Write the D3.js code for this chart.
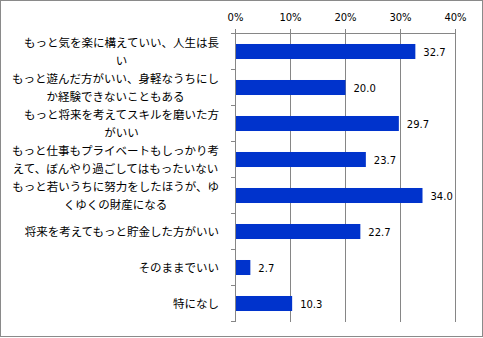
<!DOCTYPE html>
<html><head><meta charset="utf-8">
<script src="https://cdn.jsdelivr.net/npm/d3@7"></script>
<style>body{margin:0;background:#fff}svg{display:block}</style>
</head><body>
<svg id="c" width="483" height="338"></svg>
<script>
const categories = [
  "もっと気を楽に構えていい、人生は長\nい",
  "もっと遊んだ方がいい、身軽なうちにし\nか経験できないこともある",
  "もっと将来を考えてスキルを磨いた方\nがいい",
  "もっと仕事もプライベートもしっかり考\nえて、ぼんやり過ごしてはもったいない",
  "もっと若いうちに努力をしたほうが、ゆ\nくゆくの財産になる",
  "将来を考えてもっと貯金した方がいい",
  "そのままでいい",
  "特になし"
];
const values = [32.7, 20.0, 29.7, 23.7, 34.0, 22.7, 2.7, 10.3];
const ticks = [0, 10, 20, 30, 40];
const tickLabels = ["0%", "10%", "20%", "30%", "40%"];

const svg = d3.select("#c");
svg.append("rect").attr("x",0.5).attr("y",0.5).attr("width",482).attr("height",336)
  .attr("fill","#fff").attr("stroke","#8a8a8a");

const x = d3.scaleLinear().domain([0,40]).range([235.5,455.5]);
const pad = 0.583;
const y = d3.scaleBand().domain(categories).range([33.5,321.5]).paddingInner(pad).paddingOuter(pad/2);
const step = y.step();

// gridlines (with small tick above)
svg.append("g").selectAll("line").data(ticks.slice(1)).join("line")
  .attr("x1",d=>x(d)).attr("x2",d=>x(d)).attr("y1",29).attr("y2",322)
  .attr("stroke","#868686");
// top axis line
svg.append("line").attr("x1",x(0)).attr("x2",x(40)).attr("y1",33.5).attr("y2",33.5).attr("stroke","#868686");
// left axis
svg.append("line").attr("x1",x(0)).attr("x2",x(0)).attr("y1",29).attr("y2",322).attr("stroke","#868686");
// category ticks
const bounds = d3.range(categories.length+1).map(i => y.range()[0] + i*step);
svg.append("g").selectAll("line").data(bounds).join("line")
  .attr("x1",231).attr("x2",x(0)).attr("y1",d=>d).attr("y2",d=>d).attr("stroke","#868686");

// tick labels
svg.append("g").selectAll("text").data(ticks).join("text")
  .attr("x",d=>x(d)).attr("y",20.5).attr("text-anchor","middle")
  .attr("font-family","DejaVu Sans").attr("font-size",10).attr("fill","#000")
  .text((d,i)=>tickLabels[i]);

// bars
svg.append("g").selectAll("rect").data(values).join("rect")
  .attr("x",x(0)+0.5).attr("y",(d,i)=>y(categories[i]))
  .attr("width",d=>x(d)-x(0)-0.5).attr("height",y.bandwidth())
  .attr("fill","#0033CC");

// value labels
svg.append("g").selectAll("text").data(values).join("text")
  .attr("x",d=>x(d)+8).attr("y",(d,i)=>y(categories[i])+y.bandwidth()/2+4)
  .attr("font-family","DejaVu Sans").attr("font-size",10).attr("fill","#000")
  .text(d=>d.toFixed(1));

// category labels
const lh = 17.6;
categories.forEach(c => {
  const lines = c.split("\n");
  const cy = y(c) + y.bandwidth()/2;
  const g = svg.append("g");
  const ts = lines.map((ln,k) => g.append("text")
    .attr("y", cy + (k - (lines.length-1)/2)*lh + 4.3)
    .attr("font-family","'Noto Sans CJK JP'").attr("font-size",11.5).attr("fill","#000")
    .attr("text-anchor","middle").text(ln));
  const w = d3.max(ts, t => t.node().getComputedTextLength());
  ts.forEach(t => t.attr("x", 219 - w/2));
});
</script>
</body></html>
